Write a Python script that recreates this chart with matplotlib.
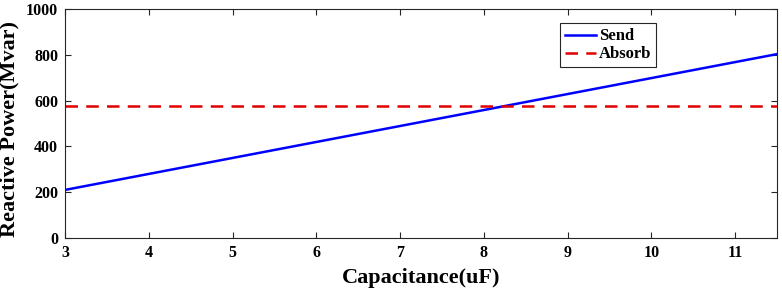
import matplotlib
matplotlib.use('Agg')
import matplotlib.pyplot as plt
import numpy as np
from matplotlib import rcParams

rcParams.update({
    'font.family': ['Liberation Serif', 'DejaVu Serif'],
    'font.weight': 'bold',
})

# Data
cap = [3, 11.5]
send = [210, 803]
absorb = [575, 575]

fig = plt.figure(figsize=(7.82, 2.91), dpi=100)
ax = fig.add_axes([65/782, 1-238/291, 712/782, 229/291])

ax.plot(cap, send, color='#0000ff', lw=1.8, label='Send')
ax.plot(cap, absorb, color='#e00000', lw=1.8, ls=(0, (5, 3.3)), label='Absorb')

ax.set_xlim(3, 11.5)
ax.set_ylim(0, 1000)
ax.set_xticks(np.arange(3, 12, 1))
ax.set_yticks(np.arange(0, 1001, 200))
ax.tick_params(direction='in', length=4, width=0.8, colors='#262626',
               labelsize=11.5, top=True, right=True, pad=5)
for lab in ax.get_xticklabels() + ax.get_yticklabels():
    lab.set_color('black')
    lab.set_fontweight('bold')
for sp in ax.spines.values():
    sp.set_color('#262626')
    sp.set_linewidth(0.8)

ax.set_xlabel('Capacitance(uF)', fontsize=16, fontweight='bold', labelpad=5)
ax.set_ylabel('Reactive Power(Mvar)', fontsize=16, fontweight='bold')
ax.yaxis.set_label_coords(-0.064, 0.478)

leg = ax.legend(loc='upper left', bbox_to_anchor=(0.695, 0.937), fontsize=12,
                fancybox=False, framealpha=1, edgecolor='#262626',
                handlelength=1.85, borderpad=0.3, labelspacing=0.12,
                handletextpad=0.2, borderaxespad=0)
leg.get_frame().set_linewidth(0.8)

fig.savefig('out.png', dpi=100)
